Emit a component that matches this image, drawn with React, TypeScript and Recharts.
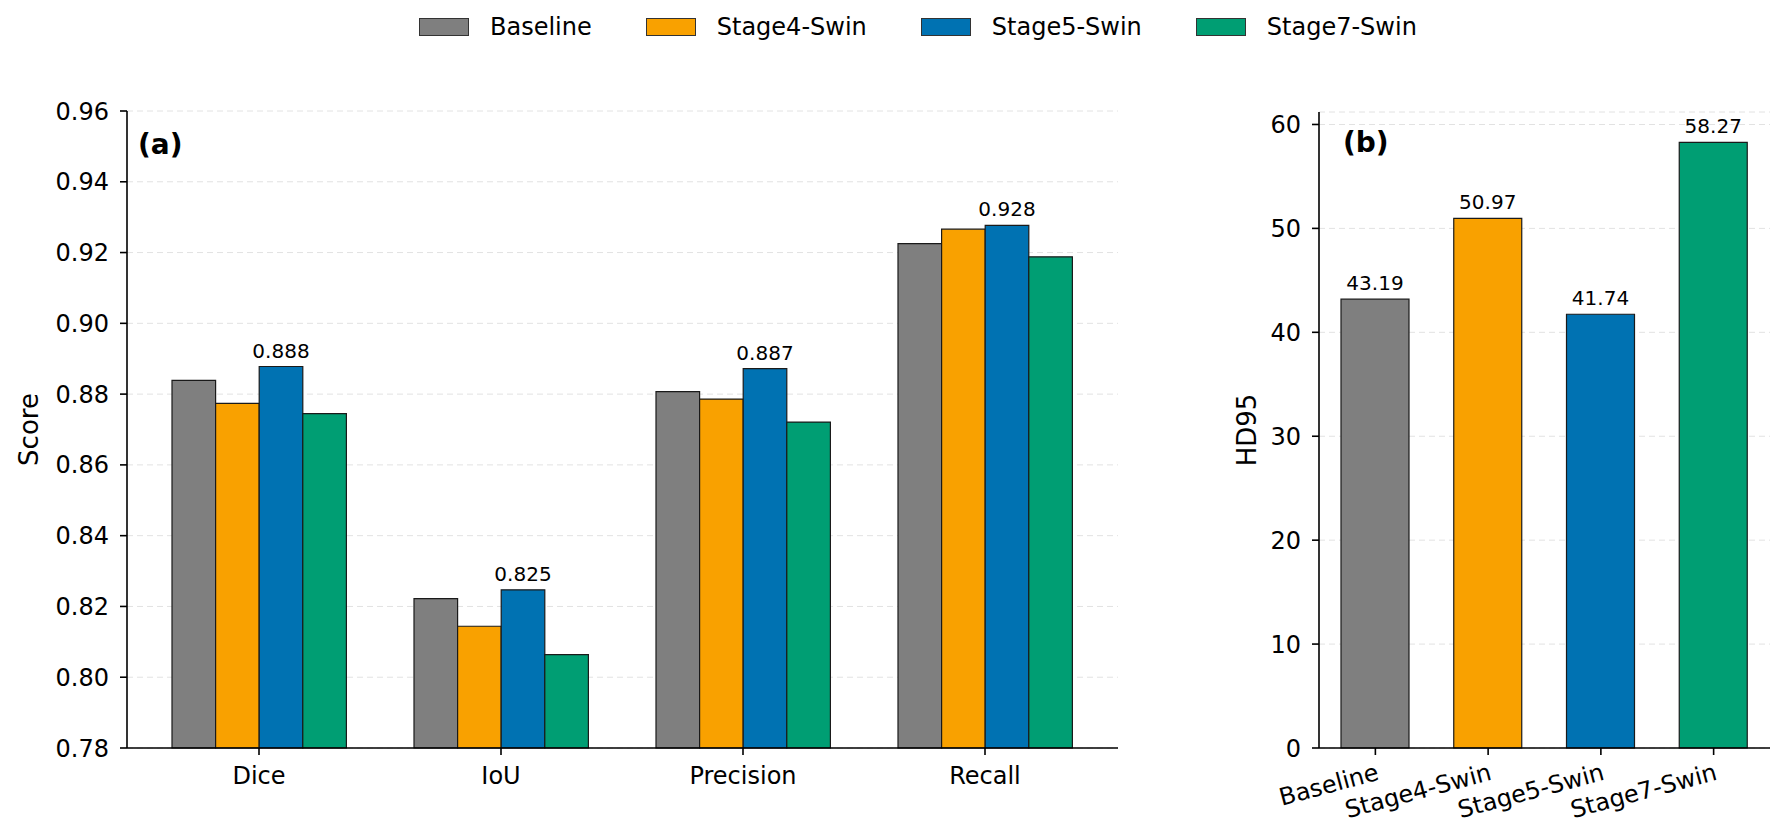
import React from 'react'
import { BarChart, Bar, XAxis, YAxis, CartesianGrid, LabelList, Cell } from 'recharts'

const metrics = ['Dice', 'IoU', 'Precision', 'Recall']
const models = ['Baseline', 'Stage4-Swin', 'Stage5-Swin', 'Stage7-Swin']
const colors = ['#7F7F7F', '#F9A100', '#0072B2', '#009E73']

const baseline = [0.8839, 0.8222, 0.8807, 0.9225]
const stage4 = [0.8774, 0.8144, 0.8786, 0.9266]
const stage5 = [0.8878, 0.8247, 0.8872, 0.9277]
const stage7 = [0.8745, 0.8064, 0.8721, 0.9188]

const hd95 = [43.19, 50.97, 41.74, 58.27]

const scoreTicks = [0.78, 0.8, 0.82, 0.84, 0.86, 0.88, 0.9, 0.92, 0.94, 0.96]
const hdTicks = [0, 10, 20, 30, 40, 50, 60]

const FONT = 'DejaVu Sans, Verdana, sans-serif'

const scoreRows = metrics.map((m, i) => ({
  metric: m,
  Baseline: baseline[i],
  'Stage4-Swin': stage4[i],
  'Stage5-Swin': stage5[i],
  'Stage7-Swin': stage7[i],
}))

const hdRows = models.map((m, i) => ({ model: m, hd95: hd95[i] }))

// rotated y axis title, centred on the plot height
const axisTitle = (text: string, dx: number) => (props: any) => {
  const vb = props.viewBox
  const cx = vb.x + dx
  const cy = vb.y + vb.height / 2
  return (
    <text
      x={cx}
      y={cy}
      transform={`rotate(-90 ${cx} ${cy})`}
      textAnchor="middle"
      dominantBaseline="central"
      fontSize={26}
      fill="#000"
      fontFamily={FONT}
    >
      {text}
    </text>
  )
}

const RotatedTick = (props: any) => {
  const { x, y, payload } = props
  return (
    <g transform={`translate(${x},${y}) rotate(-15)`}>
      <text x={0} y={0} dy="0.75em" textAnchor="end" fontSize={24} fill="#000" fontFamily={FONT}>
        {payload.value}
      </text>
    </g>
  )
}

const tickStyle = { fontSize: 24, fill: '#000', fontFamily: FONT }
const axisStroke = { stroke: '#000', strokeWidth: 1.6 }

const ScoreChart = () => (
  <BarChart
    width={1130}
    height={831}
    data={scoreRows}
    margin={{ top: 111, right: 12, bottom: 23, left: 0 }}
    barSize={43.6}
    barGap={0}
  >
    <CartesianGrid vertical={false} stroke="#e2e2e2" strokeDasharray="6 4" />
    <XAxis
      dataKey="metric"
      height={60}
      padding={{ left: 11, right: 12 }}
      tick={tickStyle}
      tickSize={7}
      tickMargin={12}
      axisLine={axisStroke}
      tickLine={axisStroke}
    />
    <YAxis
      type="number"
      width={127}
      domain={[0.78, 0.96]}
      ticks={scoreTicks}
      tickFormatter={(v: number) => v.toFixed(2)}
      tick={tickStyle}
      tickSize={7}
      tickMargin={11}
      axisLine={axisStroke}
      tickLine={axisStroke}
      label={axisTitle('Score', 29)}
    />
    {models.map((m, i) => (
      <Bar key={m} dataKey={m} fill={colors[i]} stroke="#1a1a1a" strokeWidth={1.2} isAnimationActive={false}>
        {m === 'Stage5-Swin' && (
          <LabelList
            dataKey={m}
            position="top"
            offset={9}
            formatter={(v: any) => Number(v).toFixed(3)}
            style={{ fontSize: 20, fill: '#000', fontFamily: FONT }}
          />
        )}
      </Bar>
    ))}
  </BarChart>
)

const HdChart = () => (
  <BarChart
    width={644}
    height={831}
    data={hdRows}
    margin={{ top: 112, right: 14, bottom: 23, left: 0 }}
    barSize={68}
  >
    <CartesianGrid vertical={false} stroke="#e2e2e2" strokeDasharray="6 4" />
    <XAxis
      dataKey="model"
      height={60}
      interval={0}
      tick={<RotatedTick />}
      tickSize={7}
      tickMargin={7}
      axisLine={axisStroke}
      tickLine={axisStroke}
    />
    <YAxis
      type="number"
      width={179}
      domain={[0, 61.2]}
      ticks={hdTicks}
      tick={tickStyle}
      tickSize={7}
      tickMargin={11}
      axisLine={axisStroke}
      tickLine={axisStroke}
      label={axisTitle('HD95', 107)}
    />
    <Bar dataKey="hd95" stroke="#1a1a1a" strokeWidth={1.2} isAnimationActive={false}>
      {hdRows.map((r, i) => (
        <Cell key={r.model} fill={colors[i]} />
      ))}
      <LabelList
        dataKey="hd95"
        position="top"
        offset={9}
        formatter={(v: any) => Number(v).toFixed(2)}
        style={{ fontSize: 20, fill: '#000', fontFamily: FONT }}
      />
    </Bar>
  </BarChart>
)

const Legend = () => (
  <div
    style={{
      position: 'absolute',
      left: 419,
      top: 13,
      height: 28,
      display: 'flex',
      alignItems: 'center',
      fontSize: 24,
      fontFamily: FONT,
      color: '#000',
    }}
  >
    {models.map((m, i) => (
      <div key={m} style={{ display: 'flex', alignItems: 'center', marginRight: i < models.length - 1 ? 54 : 0 }}>
        <div
          style={{
            width: 48,
            height: 16,
            background: colors[i],
            border: '1px solid #333',
            marginRight: 21,
          }}
        />
        <span>{m}</span>
      </div>
    ))}
  </div>
)

export default function App() {
  return (
    <div
      style={{
        position: 'absolute',
        left: 0,
        top: 0,
        width: 1784,
        height: 831,
        background: '#fff',
        fontFamily: FONT,
        overflow: 'hidden',
      }}
    >
      <div style={{ position: 'absolute', left: 0, top: 0 }}>
        <ScoreChart />
      </div>
      <div style={{ position: 'absolute', left: 1140, top: 0 }}>
        <HdChart />
      </div>
      <Legend />
      <svg
        width={1784}
        height={831}
        style={{ position: 'absolute', left: 0, top: 0, pointerEvents: 'none' }}
      >
        <text x={138} y={144} dominantBaseline="central" fontSize={28} fontWeight="bold" fontFamily={FONT}>
          (a)
        </text>
        <text x={1343} y={142} dominantBaseline="central" fontSize={28} fontWeight="bold" fontFamily={FONT}>
          (b)
        </text>
      </svg>
    </div>
  )
}
